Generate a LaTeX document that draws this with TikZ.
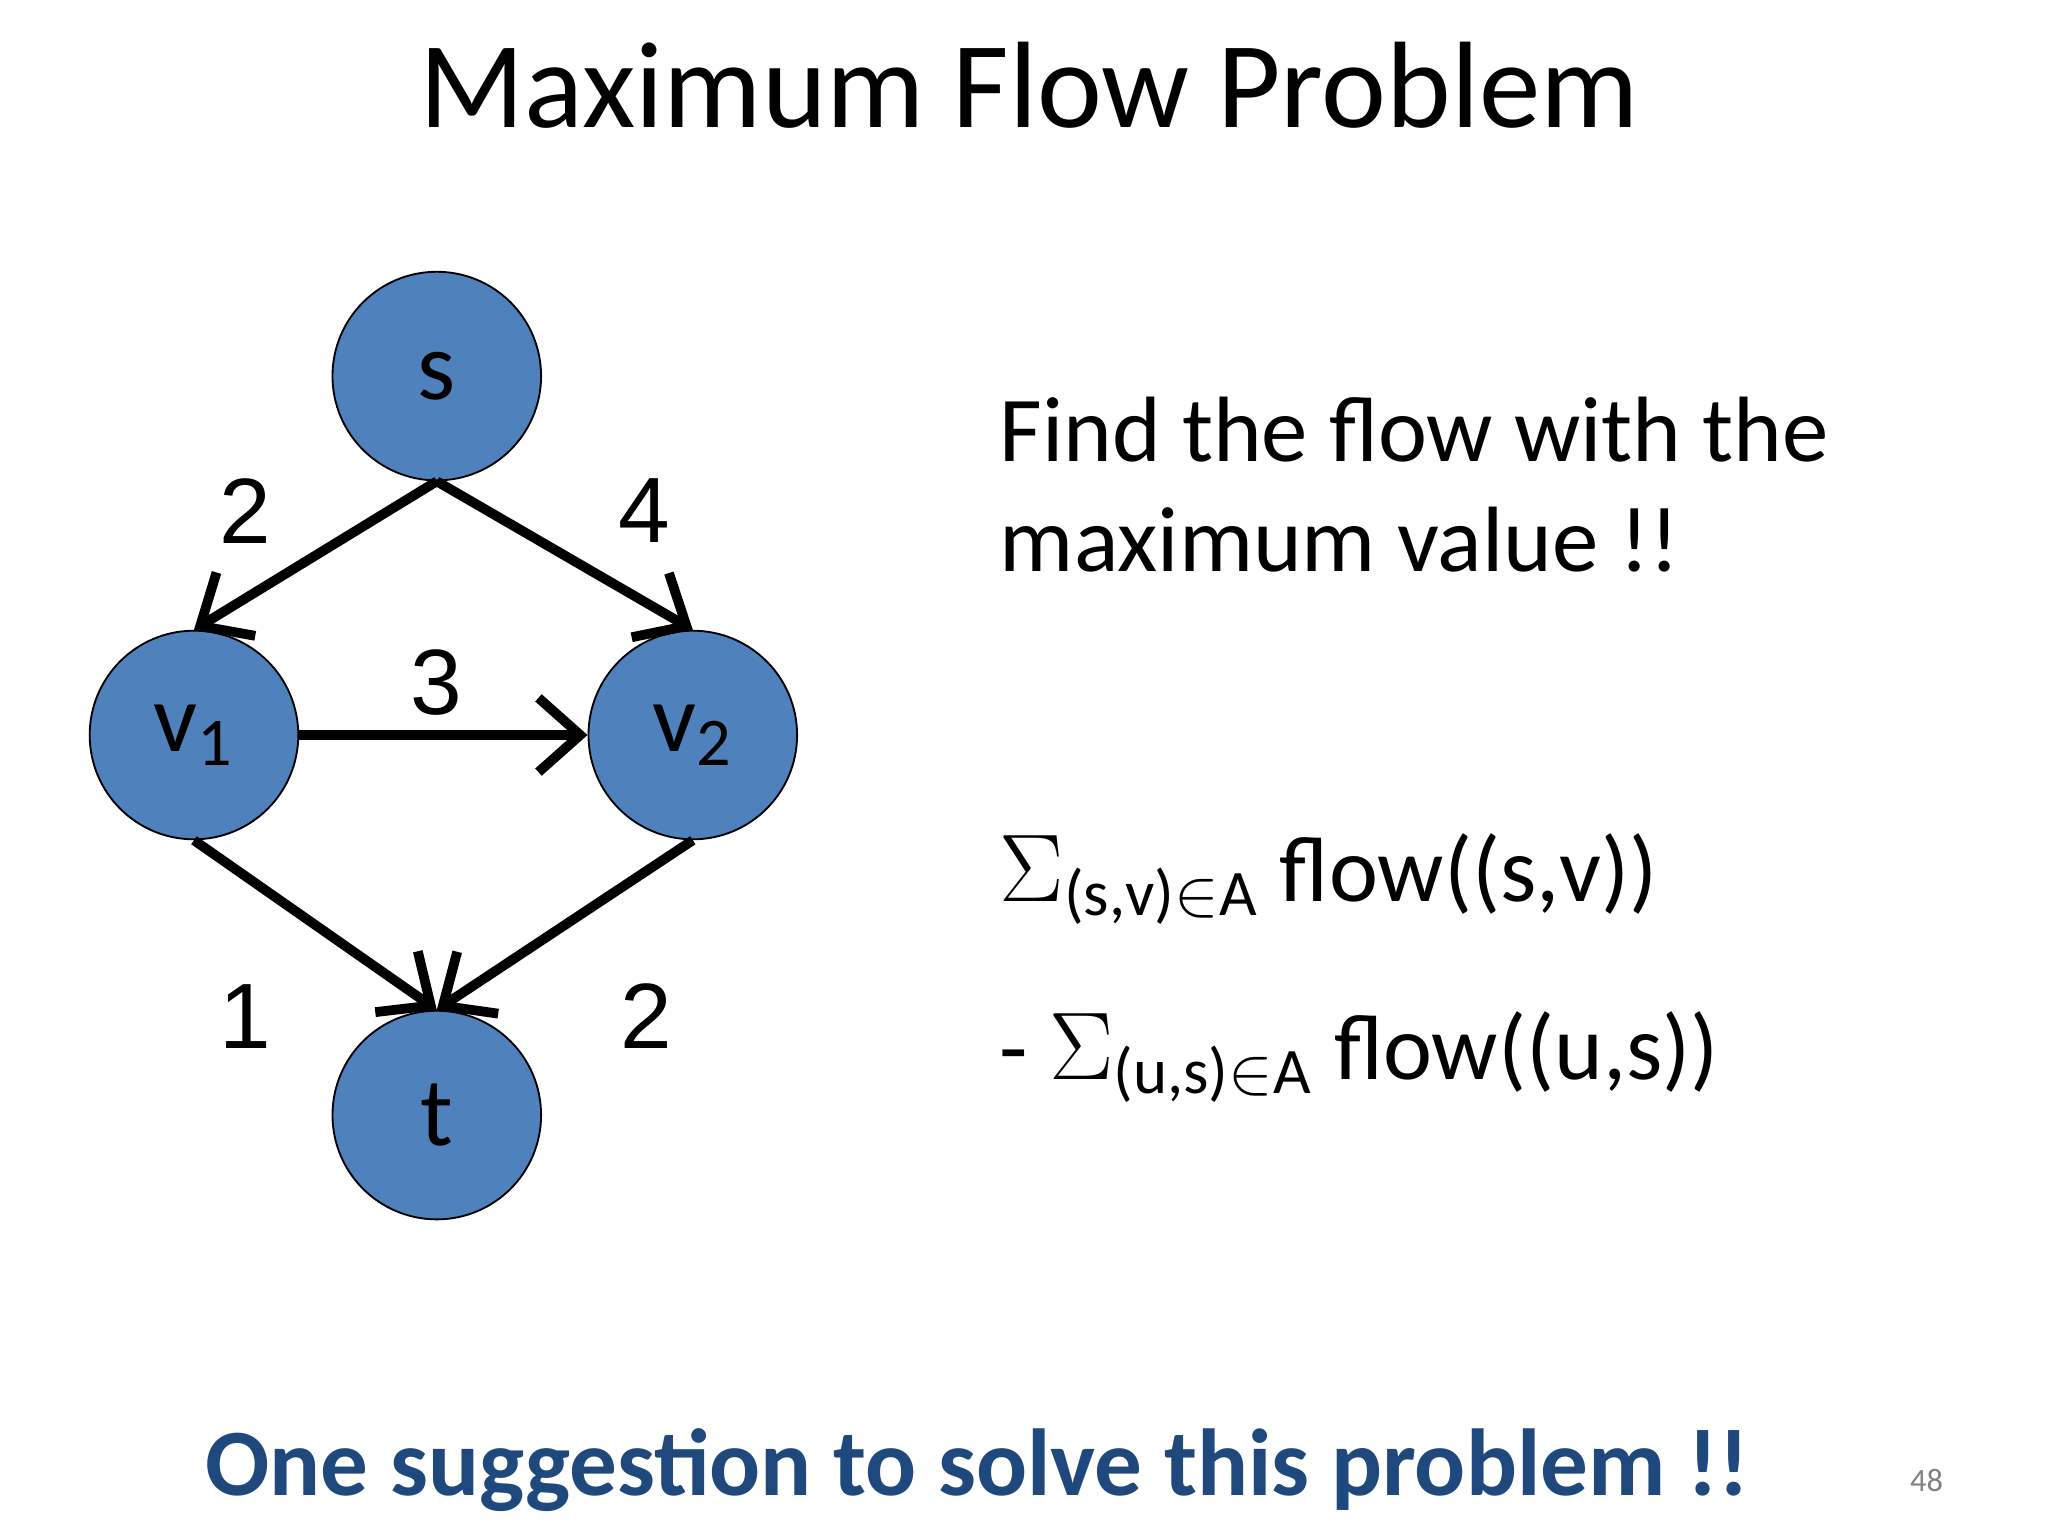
\documentclass[tikz,border=0pt]{standalone}
\usepackage{fontspec}
\setmainfont{Carlito}
\newfontfamily\arial{Liberation Sans}
\usetikzlibrary{arrows.meta}
\definecolor{nodeblue}{RGB}{79,129,189}
\definecolor{darkblue}{RGB}{31,73,125}
\begin{document}
\begin{tikzpicture}[x=0.01cm,y=-0.01cm,
  vert/.style={circle,draw=black,thin,fill=nodeblue,minimum size=1.58cm,inner sep=0pt,font=\fontsize{21}{24}\selectfont},
  edge/.style={line width=2.1pt,-{Straight Barb[length=9pt,width=16pt,line width=2.1pt]}},
  elab/.style={font=\arial\fontsize{20}{24}\selectfont},
  txt/.style={anchor=base west,inner sep=0pt,font=\fontsize{20}{24}\selectfont}]
\useasboundingbox (0,0) rectangle (1552,1164);
\node[font=\fontsize{26.5}{30}\selectfont,anchor=base] (title) at (780,97) {Maximum Flow Problem};
\node[vert] (s) at (331,285) {s};
\node[vert] (v1) at (147,557) {v\textsubscript{1}};
\node[vert] (v2) at (525,557) {v\textsubscript{2}};
\node[vert] (t) at (331,845) {t};
\draw[edge] (s.south) -- (v1.north);
\draw[edge] (s.south) -- (v2.north);
\draw[edge] (v1.east) -- (v2.west);
\draw[edge] (v1.south) -- (t.north);
\draw[edge] (v2.south) -- (t.north);
\node[elab] (l1) at (186,387) {2};
\node[elab] (l2) at (488,387) {4};
\node[elab] (l3) at (331,517) {3};
\node[elab] (l4) at (186,770) {1};
\node[elab] (l5) at (490,770) {2};
\node[txt] (f1) at (757,350) {Find the flow with the};
\node[txt] (f2) at (757,433) {maximum value !!};
\node[txt] (e1) at (757,683) {$\Sigma$\textsubscript{(s,v)$\in$A} flow((s,v))};
\node[txt] (e2) at (757,818) {- $\Sigma$\textsubscript{(u,s)$\in$A} flow((u,s))};
\node[txt,font=\bfseries\fontsize{20.5}{24}\selectfont,text=darkblue] (b) at (155,1133) {One suggestion to solve this problem !!};
\node[anchor=base,font=\fontsize{7}{8}\selectfont,text=gray] (n) at (1460,1130) {48};
\end{tikzpicture}
\end{document}
